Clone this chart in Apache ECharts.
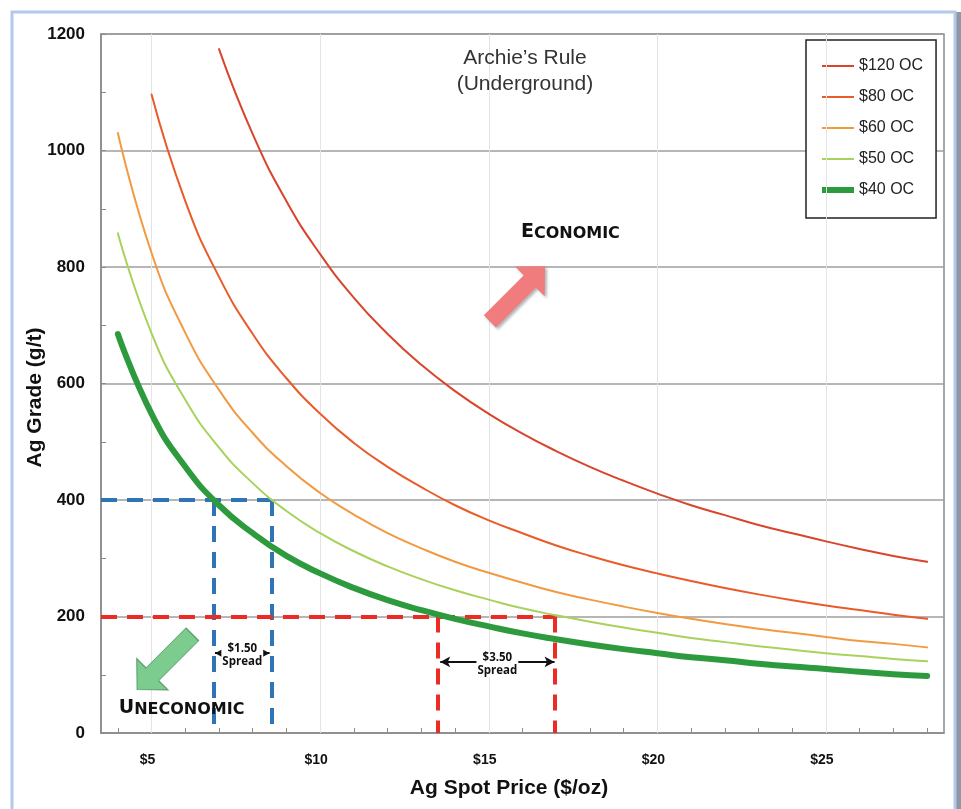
<!DOCTYPE html>
<html><head><meta charset="utf-8">
<script src="https://cdn.jsdelivr.net/npm/echarts@6/dist/echarts.min.js"></script>
<style>html,body{margin:0;padding:0;background:#fff}#c{width:961px;height:809px}</style>
</head><body><div id="c"></div>
<script>
// ---- data ----
const prices = [4,5,6,7,8,9,10,11,12,13,14,15,16,17,18,19,20,21,22,23,24,25,26,27,28];
const oc120 = [null,null,null,1174,1028,913,822,747,685,632,587,548,514,484,457,433,411,391,374,357,343,329,316,304,294];
const oc80  = [null,1096,913,783,685,609,548,498,457,422,391,365,343,322,304,288,274,261,249,238,228,219,211,203,196];
const oc60  = [1030,824,687,589,515,458,412,375,343,317,294,275,258,242,229,217,206,196,187,179,172,165,158,153,147];
const oc50  = [858,686,572,490,429,381,343,312,286,264,245,229,214,202,191,181,172,163,156,149,143,137,132,127,123];
const oc40  = [685,548,457,391,343,304,274,249,228,211,196,183,171,161,152,144,137,130,125,119,114,110,105,101,98];
const seriesNames = ['$120 OC','$80 OC','$60 OC','$50 OC','$40 OC'];
const xLabelValues = [5,10,15,20,25];
const xMin = 3.5, xMax = 28.5;
const yMin = 0, yMax = 1200, yStep = 200;
const blueLevel = 400, blueX = [6.85, 8.55];
const redLevel = 200, redX = [13.5, 16.95];
const spreads = [
  {text:'$1.50', x:[6.88, 8.5], y:137},
  {text:'$3.50', x:[13.56, 16.95], y:122}
];

const chart = echarts.init(document.getElementById('c'));
const mk = arr => prices.map((p,i)=>[p, arr[i]]).filter(d => d[1] != null);
const styles = [
  {c:'#d8452c', w:2}, {c:'#ea5b2a', w:2}, {c:'#f29a42', w:2}, {c:'#a8d25c', w:2}, {c:'#2e9a3e', w:6}
];
const curveData = [oc120, oc80, oc60, oc50, oc40];
const curves = curveData.map((arr, i) => ({
  type:'line', name:seriesNames[i], data:mk(arr), smooth:true,
  symbol:'none', showSymbol:false, silent:true, z:5,
  lineStyle:{color:styles[i].c, width:styles[i].w, cap:'round'},
  itemStyle:{color:styles[i].c, borderWidth:0}
}));

const blue = '#2f74b5', red = '#ec2b24';
const dashT = [16, 10];
const guideLine = (a, b, color) => [
  {coord:a, lineStyle:{color:color, width:4, type:dashT}}, {coord:b}
];
const arrowPath = 'path://M22,0L44,22L31,22L31,80L13,80L13,22L0,22Z';
const textPoint = (coord, label) => ({
  coord: coord, symbol:'rect', symbolSize:1, itemStyle:{color:'rgba(0,0,0,0)'},
  label:Object.assign({show:true, position:'inside'}, label)
});

const capsRich = {
  a:{fontSize:19, fontWeight:'bold', fontFamily:'DejaVu Sans', color:'#111', verticalAlign:'bottom'},
  b:{fontSize:16, fontWeight:'bold', fontFamily:'DejaVu Sans', color:'#111', verticalAlign:'bottom'}
};

const option = {
  animation:false,
  backgroundColor:'#fff',
  graphic:[
    {type:'rect', z:-10, shape:{x:955, y:12, width:6, height:820}, style:{fill:'#8e97a3'}},
    {type:'rect', z:-9, shape:{x:12, y:12, width:943, height:830},
     style:{fill:'none', stroke:'#b3c9ea', lineWidth:3}},
    {type:'text', z:10, style:{text:'Archie\u2019s Rule\n(Underground)', x:525, y:45, align:'center', verticalAlign:'top',
      font:'21px "Liberation Sans"', fill:'#333', lineHeight:26}}
  ],
  grid:{left:101, right:17, top:34, bottom:76, show:true, borderColor:'#8c8c8c', borderWidth:1.5, backgroundColor:'transparent'},
  legend:{
    data:seriesNames.map((n, i) => ({name:n,
      icon: styles[i].w > 3 ? 'path://M0,0L32,0L32,6L0,6Z' : 'path://M0,0L32,0L32,2L0,2Z'})),
    orient:'vertical', left:806, top:40, padding:[18,13,20,16], itemGap:15,
    itemWidth:32, itemHeight:14, symbolKeepAspect:true, borderColor:'#222', borderWidth:1.5, backgroundColor:'#fff',
    itemStyle:{borderWidth:0, borderColor:'rgba(0,0,0,0)'},
    textStyle:{fontSize:16, color:'#222', fontFamily:'Liberation Sans'}, selectedMode:false
  },
  xAxis:{
    type:'value', min:xMin, max:xMax,
    name:'Ag Spot Price ($/oz)', nameLocation:'middle', nameGap:45, nameMoveOverlap:false,
    nameTextStyle:{fontSize:21, fontWeight:'bold', color:'#111', fontFamily:'Liberation Sans', padding:[0,27,0,0]},
    axisLine:{show:true, onZero:false, lineStyle:{color:'#8a8a8a', width:1.5}},
    axisTick:{show:true, inside:true, length:5, customValues:prices, lineStyle:{color:'#8a8a8a'}},
    axisLabel:{customValues:xLabelValues, formatter:'${value}', fontSize:14, fontWeight:'bold', color:'#111',
      fontFamily:'Liberation Sans', margin:20, padding:[0,8,0,0]},
    splitLine:{show:false}
  },
  yAxis:{
    type:'value', min:yMin, max:yMax, interval:yStep,
    name:'Ag Grade (g/t)', nameLocation:'middle', nameGap:55, nameMoveOverlap:false,
    nameTextStyle:{fontSize:21, fontWeight:'bold', color:'#111', fontFamily:'Liberation Sans', padding:[0,28,0,0]},
    axisLine:{show:true, lineStyle:{color:'#8a8a8a', width:1.5}},
    axisTick:{show:true, inside:true, length:5, lineStyle:{color:'#8a8a8a'}},
    minorTick:{show:true, splitNumber:2, length:5, lineStyle:{color:'#8a8a8a'}},
    axisLabel:{fontSize:17, fontWeight:'bold', color:'#111', fontFamily:'Liberation Sans', margin:16,
      formatter: v => String(v)},
    splitLine:{show:true, lineStyle:{color:'#9e9e9e', width:1.5}}
  },
  series:[
    {type:'line', name:'vgrid', data:[[xLabelValues[0], yMin]], symbol:'none', silent:true, z:1,
     markLine:{silent:true, symbol:['none','none'], label:{show:false},
       lineStyle:{color:'#e4e4e4', width:1, type:'solid'},
       data: xLabelValues.map(v => ({xAxis:v}))}},
    {type:'line', name:'guides', data:[[blueX[1], blueLevel]], symbol:'none', silent:true, z:3,
     markLine:{silent:true, symbol:['none','none'], label:{show:false},
       data:[
         guideLine([xMin, blueLevel], [blueX[1], blueLevel], blue),
         guideLine([blueX[0], blueLevel], [blueX[0], yMin], blue),
         guideLine([blueX[1], blueLevel], [blueX[1], yMin], blue),
         guideLine([xMin, redLevel], [redX[1], redLevel], red),
         guideLine([redX[0], redLevel], [redX[0], yMin], red),
         guideLine([redX[1], redLevel], [redX[1], yMin], red)
       ]}},
    {type:'line', name:'notes', data:[[spreads[0].x[0], spreads[0].y]], symbol:'none', silent:true, z:6,
     markLine:{silent:true, symbol:['arrow','arrow'], symbolSize:[8,10], label:{show:false},
       lineStyle:{color:'#111', width:2, type:'solid'},
       data: spreads.map(s => [{coord:[s.x[0], s.y]}, {coord:[s.x[1], s.y]}])},
     markPoint:{silent:true, data:[
       ...spreads.map(s => textPoint([(s.x[0]+s.x[1])/2, s.y], {
           formatter:s.text + '\nSpread', backgroundColor:'#fff',
           fontFamily:'Open Sans', fontWeight:'bold', fontSize:11.5, lineHeight:13, color:'#111', padding:[0,1], offset:[0,2]})),
       {coord:[15.85, 754], symbol:arrowPath, symbolSize:[42,78], symbolRotate:-45,
        itemStyle:{color:'#f07c7e', shadowColor:'rgba(0,0,0,0.3)', shadowBlur:3, shadowOffsetX:2, shadowOffsetY:2},
        label:{show:false}},
       {coord:[5.39, 122], symbol:arrowPath, symbolSize:[44,78], symbolRotate:135,
        itemStyle:{color:'#7ccb8f', borderColor:'#5c9f6c', borderWidth:1},
        label:{show:false}},
       textPoint([17.42, 860], {formatter:'{a|E}{b|CONOMIC}', rich:capsRich}),
       textPoint([5.89, 43], {formatter:'{a|U}{b|NECONOMIC}', rich:capsRich})
     ]}},
    ...curves
  ]
};
chart.setOption(option);
</script></body></html>
